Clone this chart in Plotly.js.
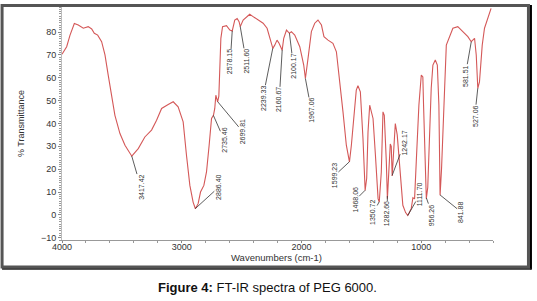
<!DOCTYPE html>
<html>
<head>
<meta charset="utf-8">
<script src="https://cdn.plot.ly/plotly-3.0.1.min.js"></script>
<style>
  body { margin: 0; background: #fff; }
  #plot { width: 537px; height: 301px; }
</style>
</head>
<body>
<div id="plot"></div>
<script>
// Spectrum (wavenumber cm-1, % transmittance)
var wavenumbers = [4000, 3961, 3933, 3897, 3864, 3822, 3781, 3752, 3730, 3702, 3669, 3641, 3614, 3585, 3558,
  3516, 3474, 3417, 3363, 3308, 3252, 3210, 3168, 3113, 3071, 3030, 2988, 2960, 2932, 2905, 2886, 2863,
  2843, 2815, 2793, 2771, 2751, 2735, 2724, 2715, 2700, 2690, 2682, 2673, 2659, 2626, 2598, 2578, 2557,
  2537, 2521, 2511, 2487, 2459, 2432, 2404, 2362, 2320, 2287, 2265, 2239, 2223, 2204, 2187, 2161, 2148,
  2125, 2100, 2084, 2056, 2014, 1981, 1967, 1945, 1917, 1889, 1862, 1833, 1812, 1778, 1737, 1708, 1681,
  1653, 1625, 1599, 1583, 1561, 1542, 1528, 1508, 1486, 1468, 1455, 1444, 1430, 1416, 1402, 1382, 1360,
  1350, 1333, 1319, 1308, 1291, 1282, 1258, 1250, 1242, 1230, 1216, 1200, 1180, 1153, 1130, 1112, 1095,
  1083, 1069, 1055, 1041, 1019, 999, 986, 980, 971, 957, 945, 930, 916, 902, 882, 865, 852, 846, 842,
  830, 818, 804, 790, 763, 735, 694, 651, 610, 582, 554, 540, 527, 513, 490, 471, 444, 416];
var transmittance = [70.3, 73.6, 78.7, 83.8, 83.1, 81.7, 82.4, 81.4, 79.5, 78.7, 75.8, 70, 61.2, 52.4, 43.6,
  35.6, 30.5, 25.7, 29, 34.1, 37.1, 41.4, 46.6, 48.3, 49.5, 47.3, 40.7, 26, 12.9, 5.6, 2.7, 4.9,
  10, 12.9, 18.8, 30.5, 42.2, 43.6, 46.6, 52.4, 49.5, 52, 62.6, 77.3, 82.4, 82.8, 80.9, 80.5, 85.3,
  86, 84.6, 82.4, 85.3, 86.8, 87.8, 86.8, 85.3, 83.9, 81.7, 77.3, 72.9, 74.3, 76.5, 75.1, 72.1, 77.3,
  80.9, 79.5, 80.2, 78.7, 73.6, 65.6, 59.7, 68.5, 80.2, 83.9, 85.3, 83.1, 78, 76.5, 75.1, 71.4, 59.7,
  45.1, 30.5, 23.2, 30.5, 45.1, 54.6, 56.5, 53.9, 33.4, 10.7, 16, 36.3, 48, 45.1, 42.2, 26.1, 7.1,
  5.6, 18.8, 45.1, 43.6, 23.2, 7.1, 31, 30, 17, 30, 40, 35, 22, 4.2, 1, -0.3, 1.5,
  2.7, 7.5, 7, 23.2, 48, 61.2, 60.4, 48, 26.1, 7.1, 12, 35, 55.4, 65.6, 67.8, 65.6, 48, 25, 8.6,
  20, 40, 55.4, 74.3, 78, 81.7, 82.4, 80.2, 78, 75.8, 77.3, 70, 55.4, 58.2, 74.3, 81.7, 86, 90.4];

// Peak labels
var peakPositions = [3417.42, 2886.40, 2735.46, 2699.81, 2578.15, 2511.60, 2239.33, 2160.67, 2100.17,
  1967.06, 1599.23, 1468.06, 1350.72, 1282.66, 1242.17, 1111.70, 956.26, 841.88, 581.51, 527.06];
var peakLabels = ["3417.42", "2886.40", "2735.46", "2699.81", "2578.15", "2511.60", "2239.33", "2160.67", "2100.17",
  "1967.06", "1599.23", "1468.06", "1350.72", "1282.66", "1242.17", "1111.70", "956.26", "841.88", "581.51", "527.06"];

var yTicks = [-10, 0, 10, 20, 30, 40, 50, 60, 70, 80];

// label offsets (px) from the peak to the text centre
var labelOffsets = [[9, 31], [23, -21], [11, 25], [25, 30], [-2, 31], [6, 35], [-10, 50], [-3, 50], [4, 33],
  [6, 32], [-15, 14], [-10, 10], [-6, 11], [0, 18], [12, -32], [12, -21], [6, 17], [21, 17], [-6, 34], [-3, 28]];

function valueAt(w) {
  for (var i = 0; i < wavenumbers.length - 1; i++) {
    var a = wavenumbers[i], b = wavenumbers[i + 1];
    if (w <= a && w >= b) {
      var t = (a - w) / (a - b);
      return transmittance[i] + t * (transmittance[i + 1] - transmittance[i]);
    }
  }
  return transmittance[transmittance.length - 1];
}

// plot area in pixels
var L = 62, R = 493.5, T = 7, B = 239.6;
function xp(p) { return (p - L) / (R - L); }
function yp(p) { return (B - p) / (B - T); }

var trace1 = {
  x: wavenumbers,
  y: transmittance,
  type: "scatter",
  mode: "lines",
  line: {color: "#d45858", width: 1.1},
  hoverinfo: "skip"
};

var data = [trace1];

var annotations = peakPositions.map(function (w, i) {
  return {
    x: w, y: valueAt(w), xref: "x", yref: "y",
    text: peakLabels[i], textangle: -90,
    font: {family: "Arial, Liberation Sans, sans-serif", size: 7, color: "#333"},
    showarrow: true, arrowhead: 0, arrowwidth: 0.8, arrowcolor: "#333",
    ax: labelOffsets[i][0], ay: labelOffsets[i][1], standoff: 0, borderpad: 0
  };
});

annotations.push({
  xref: "paper", yref: "paper", x: xp(268), y: yp(287),
  xanchor: "center", yanchor: "middle", showarrow: false,
  text: "<b>Figure 4:</b> FT-IR spectra of PEG 6000.",
  font: {family: "Arial, Liberation Sans, sans-serif", size: 13, color: "#111"}
});

// x axis title placed as text so it sits where the reference has it
annotations.push({
  xref: "paper", yref: "paper", x: xp(277), y: yp(257),
  xanchor: "center", yanchor: "middle", showarrow: false,
  text: "Wavenumbers (cm-1)",
  font: {family: "Arial, Liberation Sans, sans-serif", size: 9.5, color: "#333"}
});

var layout = {
  width: 537, height: 301,
  margin: {l: L, r: 537 - R, t: T, b: 301 - B},
  paper_bgcolor: "#fff", plot_bgcolor: "#fff",
  showlegend: false,
  font: {family: "Arial, Liberation Sans, sans-serif", size: 9, color: "#333"},
  xaxis: {
    range: [4000, 400], dtick: 1000, tick0: 0,
    showgrid: false, zeroline: false,
    showline: true, linecolor: "#999", linewidth: 1,
    ticks: "outside", ticklen: 2, tickcolor: "#888",
    ticklabelstandoff: -4,
    minor: {dtick: 200, ticks: "outside", ticklen: 2, tickcolor: "#999"},
    tickfont: {size: 9, color: "#333"}
  },
  yaxis: {
    range: [-11, 91], tickvals: yTicks,
    showgrid: false, zeroline: false,
    showline: true, linecolor: "#bbb", linewidth: 1,
    ticks: "outside", ticklen: 3, tickcolor: "#888",
    minor: {dtick: 1, ticks: "outside", ticklen: 2, tickcolor: "#999"},
    tickfont: {size: 9, color: "#333"},
    title: {text: "% Transmittance", font: {size: 9, color: "#333"}, standoff: 14}
  },
  annotations: annotations,
  shapes: [
    {type: "rect", xref: "paper", yref: "paper", x0: xp(2), x1: xp(529), y0: yp(5.5), y1: yp(266.5),
      line: {color: "#555", width: 3}},
    {type: "line", xref: "paper", yref: "paper", x0: xp(531.5), x1: xp(531.5), y0: yp(5), y1: yp(269),
      line: {color: "#000", width: 2}},
    {type: "line", xref: "paper", yref: "paper", x0: xp(2), x1: xp(532), y0: yp(268.5), y1: yp(268.5),
      line: {color: "#222", width: 1.5}}
  ]
};

Plotly.newPlot("plot", data, layout, {displayModeBar: false, staticPlot: true});
</script>
</body>
</html>
